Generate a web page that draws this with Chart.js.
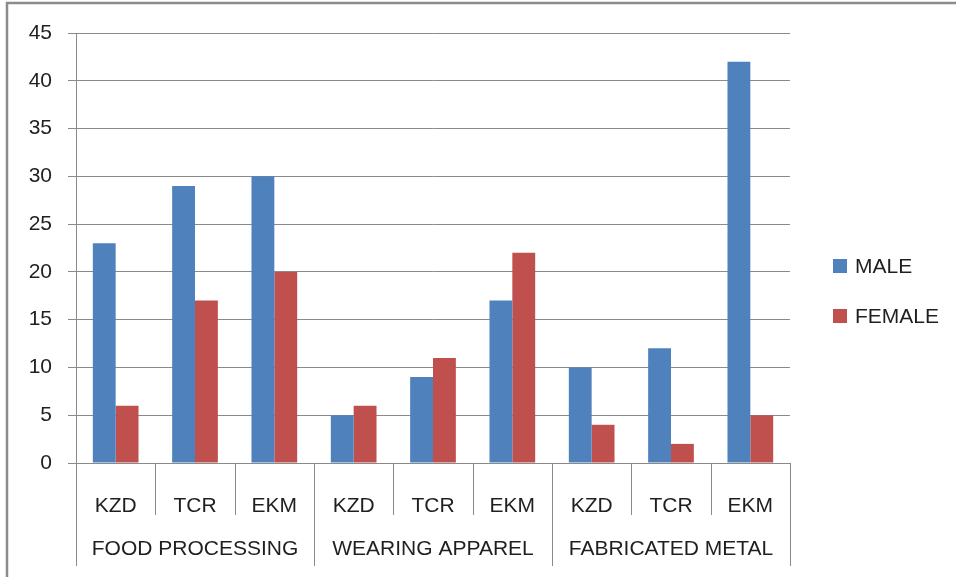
<!DOCTYPE html>
<html>
<head>
<meta charset="utf-8">
<script src="https://cdn.jsdelivr.net/npm/chart.js@4/dist/chart.umd.min.js"></script>
<style>
  html, body { margin: 0; padding: 0; background: #fff; }
  #wrap { position: relative; width: 956px; height: 577px; }
  canvas { display: block; }
</style>
</head>
<body>
<div id="wrap"><canvas id="c" width="956" height="577"></canvas></div>
<script>
// Districts within each industry, and the industry groups
const districts = ["KZD", "TCR", "EKM", "KZD", "TCR", "EKM", "KZD", "TCR", "EKM"];
const industries = ["FOOD PROCESSING", "WEARING APPAREL", "FABRICATED METAL"];
const perIndustry = 3;

// Number of workers by sex
const male = [23, 29, 30, 5, 9, 17, 10, 12, 42];
const female = [6, 17, 20, 6, 11, 22, 4, 2, 5];

const yTicks = { min: 0, max: 45, step: 5 };

const FONT = '"Liberation Sans", Arial, sans-serif';
const TEXT = '#1f1f1f';
const LINE = '#8a8a8a';

// Outer frame, category separators, industry labels and legend
const decorations = {
  id: 'decorations',
  afterDraw(chart) {
    const ctx = chart.ctx;
    const x = chart.scales.x;
    const area = chart.chartArea;
    const n = chart.data.labels.length;
    const step = (x.right - x.left) / n;
    ctx.save();

    // frame
    ctx.strokeStyle = '#8c8c8c';
    ctx.lineWidth = 2.5;
    ctx.beginPath();
    ctx.moveTo(7, 577);
    ctx.lineTo(7, 3);
    ctx.lineTo(956, 3);
    ctx.stroke();

    // separators below the axis
    ctx.strokeStyle = LINE;
    ctx.lineWidth = 1;
    for (let i = 0; i <= n; i++) {
      const px = Math.round(x.left + i * step) + 0.5;
      const bottom = (i % perIndustry === 0) ? area.bottom + 103 : area.bottom + 52;
      ctx.beginPath();
      ctx.moveTo(px, area.bottom);
      ctx.lineTo(px, bottom);
      ctx.stroke();
    }

    // industry labels
    ctx.fillStyle = TEXT;
    ctx.font = '21px ' + FONT;
    ctx.textAlign = 'center';
    ctx.textBaseline = 'middle';
    industries.forEach((name, g) => {
      const cx = x.left + (g * perIndustry + perIndustry / 2) * step;
      ctx.fillText(name, cx, area.bottom + 86);
    });

    // legend
    ctx.textAlign = 'left';
    chart.data.datasets.forEach((ds, i) => {
      const cy = 266 + i * 50;
      ctx.fillStyle = ds.backgroundColor;
      ctx.fillRect(833, cy - 7, 14, 14);
      ctx.fillStyle = TEXT;
      ctx.fillText(ds.label, 855, cy + 1);
    });
    ctx.restore();
  }
};

new Chart(document.getElementById('c'), {
  type: 'bar',
  data: {
    labels: districts,
    datasets: [
      { label: 'MALE', data: male, backgroundColor: '#4F81BD' },
      { label: 'FEMALE', data: female, backgroundColor: '#C0504D' }
    ]
  },
  options: {
    responsive: false,
    animation: false,
    events: [],
    layout: { padding: { left: 0, right: 166, top: 33, bottom: 0 } },
    datasets: { bar: { categoryPercentage: 0.576, barPercentage: 1.0 } },
    plugins: { legend: { display: false }, tooltip: { enabled: false } },
    scales: {
      x: {
        grid: { display: false },
        border: { display: true, color: LINE, width: 1 },
        ticks: { color: TEXT, font: { family: FONT, size: 21 }, padding: 23, maxRotation: 0, autoSkip: false },
        afterFit(scale) { scale.height = 114; }
      },
      y: {
        min: yTicks.min,
        max: yTicks.max,
        ticks: { stepSize: yTicks.step, color: TEXT, font: { family: FONT, size: 21 }, padding: 16 },
        grid: { color: LINE, lineWidth: 1, tickLength: 8 },
        border: { display: true, color: LINE, width: 1 },
        afterFit(scale) { scale.width = 76; }
      }
    }
  },
  plugins: [decorations]
});
</script>
</body>
</html>
